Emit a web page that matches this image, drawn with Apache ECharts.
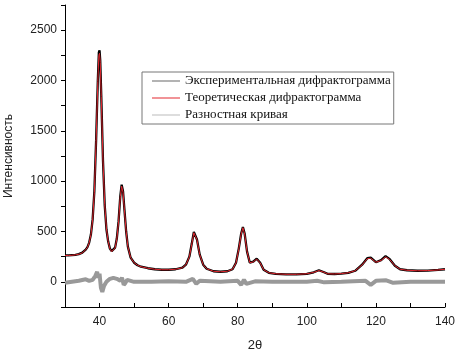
<!DOCTYPE html>
<html>
<head>
<meta charset="utf-8">
<script src="https://cdn.jsdelivr.net/npm/echarts@6/dist/echarts.min.js"></script>
<style>
  html, body { margin: 0; padding: 0; background: #fff; }
  #chart { width: 457px; height: 351px; }
</style>
</head>
<body>
<div id="chart"></div>
<script>
// углы 2θ для экспериментальной и теоретической кривой
const twoTheta = [30, 31, 32, 33, 34, 35, 36, 36.5, 37, 37.5, 38, 38.5, 39, 39.5, 39.8, 40, 40.2, 40.5, 41, 41.5, 42, 42.5, 43, 43.5, 44, 44.5, 45, 45.5, 46, 46.4, 46.8, 47.2, 47.7, 48.2, 49, 50, 51, 52, 54, 56, 58, 60, 62, 64, 65, 66, 66.7, 67.3, 67.7, 68.2, 69, 70, 71, 73, 75, 77, 78.5, 79.5, 80.3, 81, 81.5, 82, 82.7, 83.5, 84.5, 85.5, 86.5, 87.5, 89, 91, 94, 97, 100, 102, 103.5, 105, 106, 108, 110, 112, 114, 116, 117.5, 118.5, 120, 121.5, 122.8, 124, 125.5, 127, 129, 132, 135, 138, 140];
// экспериментальная дифрактограмма
const expData = [262, 262, 265, 268, 275, 290, 320, 345, 390, 470, 620, 900, 1400, 2000, 2280, 2300, 2200, 1850, 1200, 760, 520, 400, 330, 305, 310, 340, 430, 600, 850, 965, 900, 720, 500, 350, 240, 190, 165, 150, 135, 125, 120, 120, 125, 140, 170, 250, 380, 495, 505, 420, 270, 170, 130, 105, 100, 105, 125, 190, 330, 480, 545, 480, 300, 190, 200, 230, 190, 120, 90, 80, 75, 75, 80, 95, 115, 95, 80, 78, 82, 90, 110, 170, 235, 240, 195, 215, 255, 225, 160, 125, 115, 110, 112, 118, 125];
// теоретическая дифрактограмма
const calcData = [262, 262, 264, 268, 274, 288, 318, 343, 388, 468, 615, 890, 1390, 1990, 2250, 2270, 2180, 1840, 1200, 765, 525, 400, 328, 300, 305, 335, 425, 595, 845, 950, 890, 715, 500, 350, 240, 190, 165, 150, 135, 125, 120, 120, 125, 140, 170, 248, 375, 488, 498, 418, 270, 170, 130, 105, 100, 105, 125, 188, 325, 475, 538, 475, 300, 190, 198, 226, 188, 120, 90, 80, 75, 75, 80, 94, 112, 95, 80, 78, 82, 90, 110, 168, 230, 235, 195, 212, 248, 222, 160, 125, 115, 110, 112, 118, 125];
// разностная кривая
const diffTheta = [30, 32, 34, 36, 37, 38, 38.8, 39.3, 39.6, 40, 40.4, 40.8, 41.3, 42, 43, 44, 45, 46, 46.5, 47, 47.5, 48, 50, 55, 60, 65, 67, 68, 69, 75, 80, 81, 81.8, 82.5, 85, 90, 100, 103, 105, 110, 117, 118.5, 120, 123, 125, 130, 140];
const diffData = [-10, 0, 10, 25, 10, 20, 60, 100, 40, 80, -60, -100, -40, 0, 30, 40, 30, 10, 40, -30, -10, 20, 0, 0, 5, 0, 30, -20, 10, 0, 10, -30, 20, -20, 5, 0, 0, 10, -5, 0, 10, -30, 10, 15, -10, 0, 0];

const names = ["Экспериментальная дифрактограмма", "Теоретическая дифрактограмма", "Разностная кривая"];
const legendColors = ["#666", "#e3262e", "#bbb"];

function pairs(xs, ys) {
  return xs.map((x, i) => [x, ys[i]]);
}

let myChart = echarts.init(document.getElementById("chart"));
let axisFont = { fontFamily: "Liberation Sans", fontSize: 12, color: "#222" };

let options = {
  animation: false,
  grid: { left: 65, right: 12, top: 5, bottom: 44, outerBoundsMode: "none" },
  legend: {
    // в легенде тонкие линии без маркеров
    data: names.map((n, i) => ({
      name: n,
      icon: "rect",
      itemStyle: { color: legendColors[i] },
    })),
    orient: "vertical",
    left: 142,
    top: 72,
    padding: [2, 3, 2, 10],
    itemGap: 3,
    itemWidth: 28,
    itemHeight: 1,
    borderColor: "#777",
    borderWidth: 1,
    textStyle: { fontFamily: "Liberation Serif", fontSize: 13, lineHeight: 14, color: "#111" },
  },
  xAxis: {
    type: "value",
    min: 30,
    max: 140,
    interval: 10,
    name: "2θ",
    nameLocation: "middle",
    nameGap: 32,
    nameTextStyle: { fontFamily: "Liberation Sans", fontSize: 13, color: "#222" },
    axisLine: { onZero: false, lineStyle: { color: "#000", width: 1 } },
    axisTick: { inside: true, length: 4, lineStyle: { color: "#000" } },
    axisLabel: Object.assign({ margin: 9, formatter: (v) => (v % 20 === 0 ? v : "") }, axisFont),
    splitLine: { show: false },
  },
  yAxis: {
    type: "value",
    min: -250,
    max: 2750,
    interval: 250,
    name: "Интенсивность",
    nameLocation: "middle",
    nameGap: 50,
    nameTextStyle: { fontFamily: "Liberation Sans", fontSize: 12, color: "#222" },
    axisLine: { show: true, onZero: false, lineStyle: { color: "#000", width: 1 } },
    axisTick: { show: true, length: 4, lineStyle: { color: "#000" } },
    axisLabel: Object.assign({ margin: 8, formatter: (v) => (v % 500 === 0 && v >= 0 && v <= 2500 ? v : "") }, axisFont),
    splitLine: { show: false },
  },
  series: [
    {
      name: names[0],
      type: "line",
      symbol: "none",
      color: "#000",
      lineStyle: { color: "#000", width: 2.3 },
      data: pairs(twoTheta, expData),
    },
    {
      name: names[1],
      type: "line",
      symbol: "none",
      color: "#e3262e",
      lineStyle: { color: "#e3262e", width: 1 },
      data: pairs(twoTheta, calcData),
    },
    {
      name: names[2],
      type: "line",
      symbol: "none",
      color: "#bbb",
      lineStyle: { color: "#999", width: 4 },
      data: pairs(diffTheta, diffData),
    },
  ],
};
myChart.setOption(options);
window.onresize = myChart.resize;
</script>
</body>
</html>
